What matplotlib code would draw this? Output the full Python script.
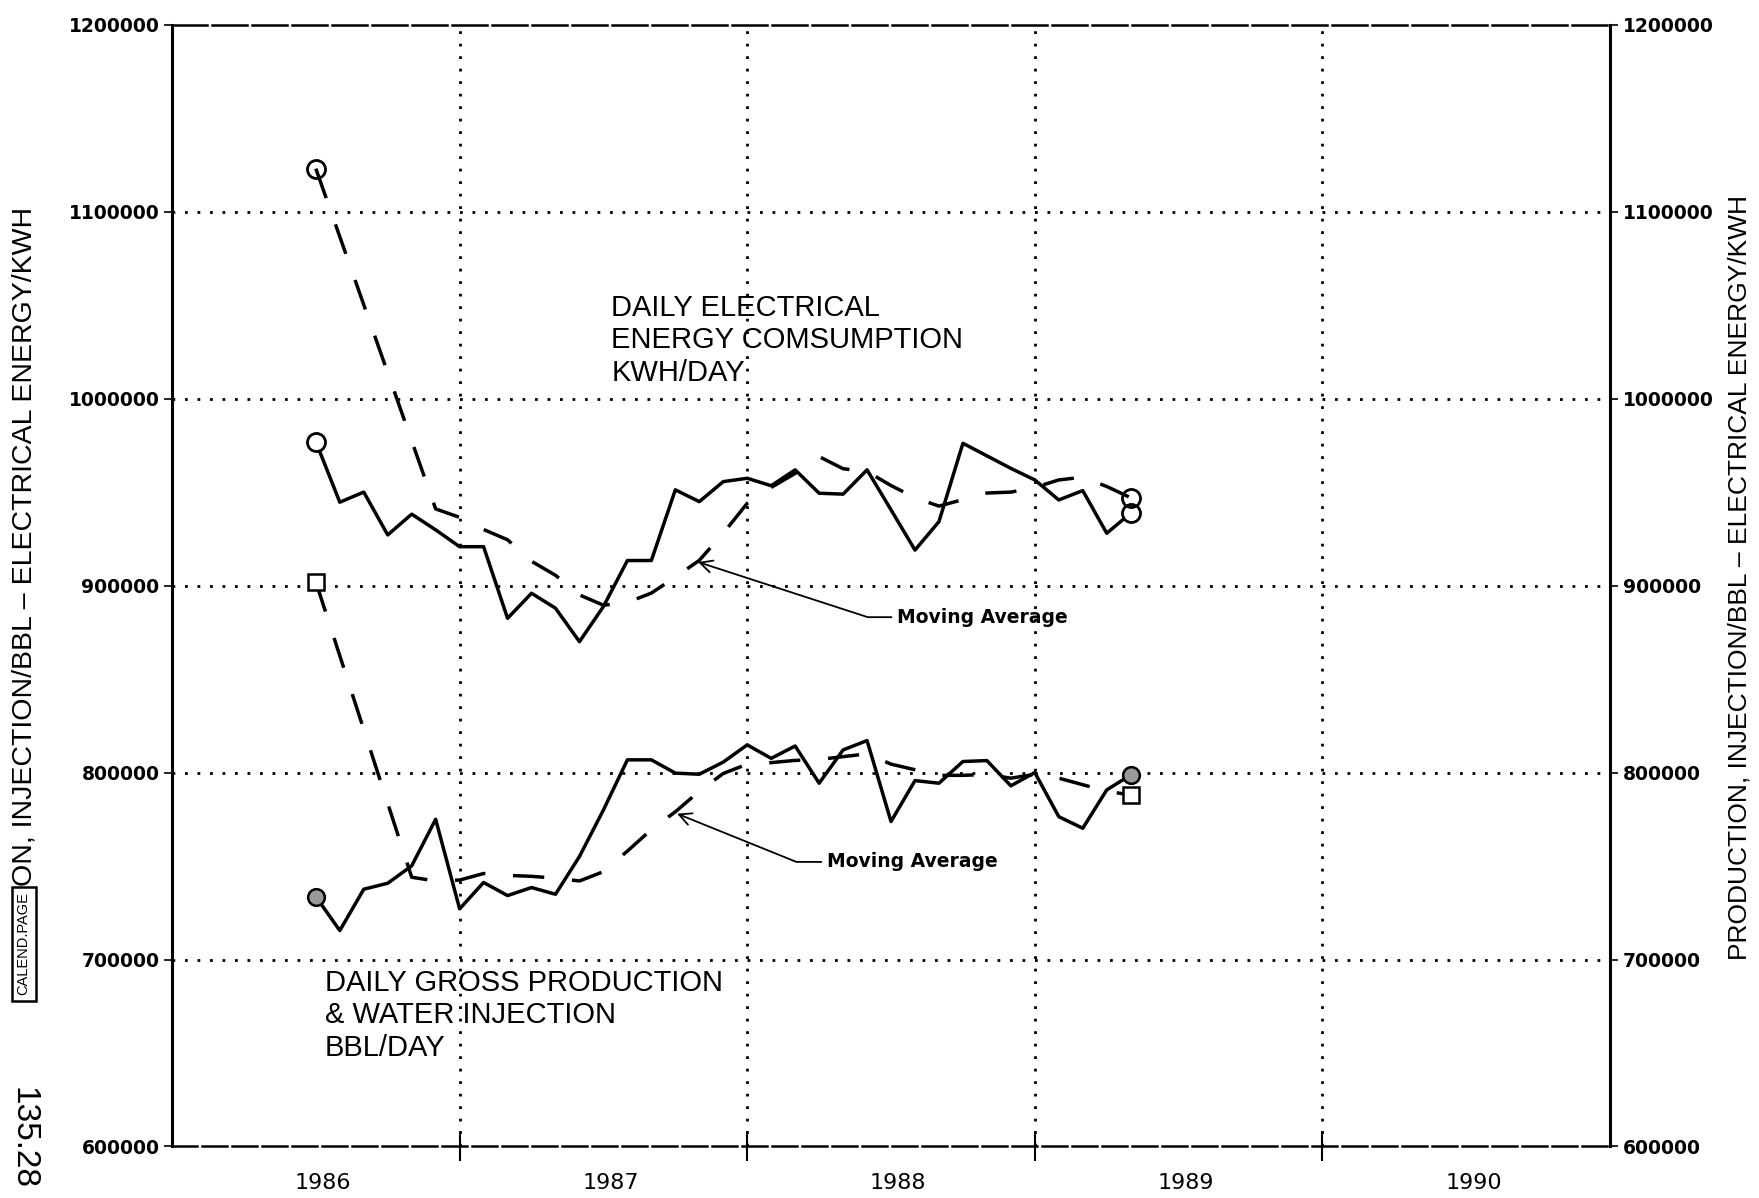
import matplotlib
matplotlib.use("Agg")
import matplotlib.pyplot as plt
import numpy as np

# monthly values, first point is july 1986
start_year = 1986.5

electric = [977000, 944600, 950000, 927100, 938200, 929800, 920800, 920800, 882500, 895900,
            887900, 870000, 888800, 913400, 913400, 951200, 944900, 955600, 957400, 953400,
            961900, 949400, 948900, 961900, 940500, 919000, 934200, 976100, 969400, 962700,
            956500, 945800, 950800, 928000, 938700]

electric_ma_month = [0, 5, 6, 7, 8, 9, 10, 11, 12, 13, 14, 15, 16, 17, 18, 19, 20,
                     21, 22, 23, 24, 25, 26, 27, 28, 29, 30, 31, 32, 33, 34]
electric_ma = [1123000, 941000, 936500, 930000, 924500, 913000, 905500, 895000, 889500,
               891000, 896000, 904500, 913500, 928000, 944000, 952500, 960000, 969000,
               962500, 961000, 953500, 947000, 942500, 946000, 949500, 950000, 952500,
               956500, 958000, 953000, 947000]

production = [733600, 715500, 737600, 740800, 750100, 775000, 727100, 741200, 734200, 738500,
              734900, 755100, 780000, 806800, 806800, 799700, 799100, 805600, 814800, 807600,
              814200, 794300, 812100, 817100, 773800, 795700, 794300, 805900, 806400, 792900,
              800000, 776400, 770200, 790700, 798700]

production_ma_month = [0, 4, 5, 6, 7, 8, 9, 10, 11, 12, 13, 14, 15, 16, 17, 18, 19, 20,
                       21, 22, 23, 24, 25, 26, 27, 28, 29, 30, 31, 32, 33, 34]
production_ma = [902000, 744000, 742000, 742500, 746000, 745000, 744500, 743500, 742000,
                 747000, 758000, 769500, 779000, 790000, 799500, 804500, 805300, 806500,
                 807000, 808500, 810000, 804500, 801500, 798500, 798500, 799000, 797000,
                 799000, 797000, 793500, 790000, 788000]

year_labels = ["1986", "1987", "1988", "1989", "1990"]
y_ticks = [600000, 700000, 800000, 900000, 1000000, 1100000, 1200000]

axis_label = "PRODUCTION, INJECTION/BBL \u2013 ELECTRICAL ENERGY/KWH"
# the start of the left title is hidden under the library stamp
left_label = "ON, INJECTION/BBL \u2013 ELECTRICAL ENERGY/KWH"

fig = plt.figure(figsize=(17.59, 11.98), dpi=100)
ax = fig.add_axes([0.0978, 0.043, 0.8175, 0.9364])

x_e = start_year + np.arange(len(electric)) / 12
x_p = start_year + np.arange(len(production)) / 12
x_ema = start_year + np.array(electric_ma_month) / 12
x_pma = start_year + np.array(production_ma_month) / 12

dash = (0, (9, 8))

# electrical energy
ax.plot(x_e, electric, color="black", lw=2.5, marker="o", ms=13, mfc="white",
        mew=2, markevery=[0, len(electric) - 1], zorder=3)
ax.plot(x_ema, electric_ma, color="black", lw=2.5, ls=dash, marker="o", ms=13,
        mfc="none", mew=2, markevery=[0, len(electric_ma) - 1], zorder=3)

# production / injection
ax.plot(x_p, production, color="black", lw=2.5, marker="o", ms=12, mfc="0.6",
        mew=1.8, markevery=[0, len(production) - 1], zorder=3)
ax.plot(x_pma, production_ma, color="black", lw=2.5, ls=dash, marker="s", ms=12,
        mfc="white", mew=1.8, markevery=[0, len(production_ma) - 1], zorder=3)

ax.set_xlim(1986, 1991)
ax.set_ylim(600000, 1200000)

# year boundaries as major ticks, names in the middle of each year
ax.set_xticks([1987, 1988, 1989, 1990])
ax.set_xticklabels([])
ax.set_xticks([1986.525 + i for i in range(len(year_labels))], minor=True)
ax.set_xticklabels(year_labels, minor=True, fontsize=16, family="DejaVu Sans")
ax.tick_params(axis="x", which="major", direction="inout", length=22, width=1.5)
ax.tick_params(axis="x", which="minor", length=0, pad=19)

ax.set_yticks(y_ticks)
ax.set_yticklabels([str(v) for v in y_ticks], fontsize=13.5, fontweight="bold")
ax.tick_params(axis="y", direction="out", length=6, width=1.2, pad=3,
               right=True, labelright=True)

# dotted grid
ax.grid(axis="x", which="major", color="black", ls=(0, (1, 3.5)), lw=2)
for v in y_ticks[1:-1]:
    ax.axhline(v, color="black", ls=(0, (1, 3.5)), lw=2, zorder=1)

for side in ["left", "right"]:
    ax.spines[side].set_linewidth(2.2)
ax.spines["top"].set_linewidth(1.8)
ax.spines["top"].set_linestyle((0, (14, 2)))
ax.spines["bottom"].set_linewidth(1.8)
ax.spines["bottom"].set_linestyle((0, (10, 2)))

# chart notes
ax.text(1987.527, 1056000, "DAILY ELECTRICAL\nENERGY COMSUMPTION\nKWH/DAY",
        family="Liberation Sans", fontsize=21, va="top", ha="left", linespacing=1.2)
ax.text(1986.532, 695000, "DAILY GROSS PRODUCTION\n& WATER INJECTION\nBBL/DAY",
        family="Liberation Sans", fontsize=21, va="top", ha="left", linespacing=1.2)

arrow_style = dict(arrowstyle="->", color="black", lw=1.3, shrinkA=2, shrinkB=0,
                   mutation_scale=22)
ax.annotate("Moving Average", xy=(1987.829, 912600), xytext=(1988.521, 883100),
            fontsize=13.5, fontweight="bold", va="center", ha="left",
            arrowprops=dict(connectionstyle="angle,angleA=0,angleB=-18,rad=0", **arrow_style))
ax.annotate("Moving Average", xy=(1987.756, 778000), xytext=(1988.277, 752200),
            fontsize=13.5, fontweight="bold", va="center", ha="left",
            arrowprops=dict(connectionstyle="angle,angleA=0,angleB=-22,rad=0", **arrow_style))

# axis titles on both sides
fig.text(0.0142, 0.827, left_label, rotation=90, family="Liberation Sans",
         fontsize=20.5, va="top", ha="center")
fig.text(0.989, 0.518, axis_label, rotation=90, family="Liberation Sans",
         fontsize=19, va="center", ha="center")

# library stamp in the lower left corner
fig.text(0.0135, 0.212, "CALEND.PAGE", rotation=90, family="Liberation Sans",
         fontsize=10.5, va="center", ha="center",
         bbox=dict(boxstyle="square,pad=0.35", fc="white", ec="black", lw=1.8))
fig.text(0.013, 0.05, "135.28", rotation=270, family="Liberation Sans",
         fontsize=24, va="center", ha="center")

fig.savefig("out.png", dpi=100)
